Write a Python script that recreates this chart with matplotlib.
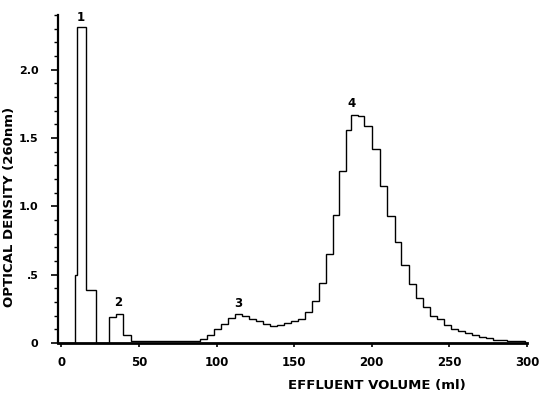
import matplotlib
matplotlib.use("Agg")
import matplotlib.pyplot as plt
from matplotlib.ticker import MultipleLocator, FixedLocator

# Fraction boundaries (ml) and optical density of each fraction
fraction_edges = [0, 9.1, 10.4, 15.8, 22.0, 31.0, 35.4, 40.0, 44.6, 89.3,
                  93.6, 98.6, 103.0, 107.4, 111.8, 116.3, 120.8, 125.3, 129.8,
                  134.3, 138.8, 143.3, 147.8, 152.3, 156.8, 161.7, 166.0, 170.3,
                  175.0, 178.9, 183.2, 186.9, 191.0, 194.8, 200.4, 205.1, 209.8,
                  214.8, 219.1, 224.0, 228.7, 233.2, 237.7, 242.2, 246.7, 251.2,
                  255.7, 260.2, 264.7, 269.2, 273.7, 278.2, 282.7, 287.2, 291.7,
                  296.2, 298.5]
optical_density = [0, 0.50, 2.31, 0.39, 0, 0.19, 0.21, 0.06, 0.012,
                   0.03, 0.055, 0.10, 0.14, 0.18, 0.21, 0.20, 0.175, 0.16, 0.14,
                   0.125, 0.135, 0.145, 0.16, 0.175, 0.23, 0.31, 0.44, 0.65,
                   0.94, 1.26, 1.56, 1.67, 1.66, 1.59, 1.42, 1.15, 0.93, 0.74,
                   0.57, 0.43, 0.33, 0.26, 0.20, 0.175, 0.13, 0.10, 0.09, 0.073,
                   0.06, 0.045, 0.033, 0.025, 0.02, 0.017, 0.015, 0.012]

peak_labels = ["1", "2", "3", "4"]
peak_x = [12.5, 36.4, 113.9, 187.0]
peak_y = [2.38, 0.30, 0.29, 1.75]

x_ticks = [0, 50, 100, 150, 200, 250, 300]
x_tick_labels = ["0", "50", "100", "150", "200", "250", "300"]
y_ticks = [0, 0.5, 1.0, 1.5, 2.0]
y_tick_labels = ["0", ".5", "1.0", "1.5", "2.0"]

fig = plt.figure(figsize=(5.4, 3.97), dpi=100)
ax = fig.add_axes([0.107, 0.136, 0.869, 0.826])

ax.stairs(optical_density, fraction_edges, color="black", linewidth=1.0)

ax.set_xlim(-2.3, 300)
ax.set_ylim(0, 2.4)

for s in ["top", "right"]:
    ax.spines[s].set_visible(False)
ax.spines["left"].set_linewidth(1.6)
ax.spines["bottom"].set_linewidth(2.0)

ax.xaxis.set_major_locator(FixedLocator(x_ticks))
ax.set_xticklabels(x_tick_labels, fontsize=8.5, fontweight="bold")
ax.yaxis.set_major_locator(FixedLocator(y_ticks))
ax.set_yticklabels(y_tick_labels, fontsize=8, fontweight="bold")
ax.yaxis.set_minor_locator(MultipleLocator(0.1))
ax.tick_params(axis="x", direction="out", length=3, width=1.2, pad=6)
ax.tick_params(axis="y", which="major", direction="out", length=5, width=1.2, pad=9)
ax.tick_params(axis="y", which="minor", direction="out", length=3, width=1.0)

for lab, px, py in zip(peak_labels, peak_x, peak_y):
    ax.text(px, py, lab, ha="center", va="center", fontsize=8.5, fontweight="bold")

fig.text(0.697, 0.03, "EFFLUENT VOLUME (ml)", ha="center", va="center",
         fontsize=9.5, fontweight="bold")
fig.text(0.018, 0.48, "OPTICAL DENSITY (260nm)", ha="center", va="center",
         rotation=90, fontsize=9.5, fontweight="bold")

fig.savefig("out.png", dpi=100, facecolor="white")
